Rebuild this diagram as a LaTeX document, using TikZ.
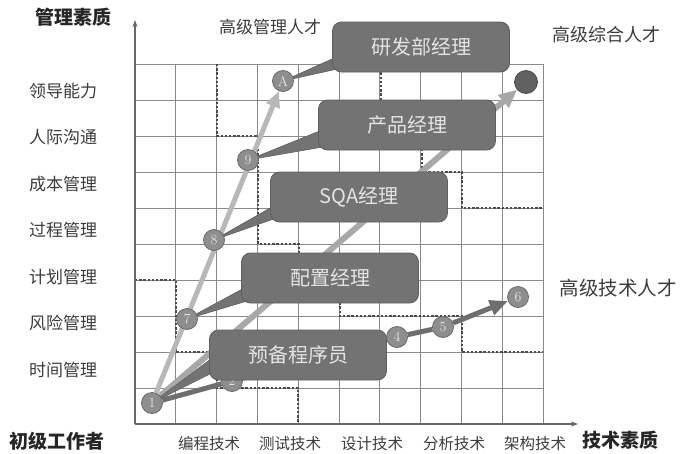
\documentclass[tikz,border=0pt]{standalone}
\usepackage{fontspec}
\newfontfamily\cjk{Noto Sans CJK SC}
\usetikzlibrary{arrows.meta,calc}
\definecolor{gridc}{HTML}{8A8A8A}
\definecolor{axisc}{HTML}{666666}
\definecolor{dotc}{HTML}{4A4A4A}
\definecolor{boxc}{HTML}{737373}
\definecolor{boxd}{HTML}{5E5E5E}
\definecolor{boxt}{HTML}{E4E4E4}
\definecolor{circc}{HTML}{8E8E8E}
\definecolor{circd}{HTML}{6A6A6A}
\definecolor{lgarr}{HTML}{B8B8B8}
\definecolor{mgarr}{HTML}{A8A8A8}
\definecolor{dkarr}{HTML}{6E6E6E}
\definecolor{txtc}{HTML}{3C3C3C}
\pgfdeclarelayer{bg}
\pgfdeclarelayer{mid}
\pgfsetlayers{bg,mid,main}
\tikzset{
  num/.style={circle, fill=circc, draw=circd, line width=0.8pt, minimum size=21pt,
    inner sep=0pt, text=boxt, font=\fontsize{14}{14}\selectfont},
  card/.style={rectangle, rounded corners=9pt, fill=boxc, draw=boxd, line width=0.8pt,
    minimum width=177pt, minimum height=50pt, text=boxt,
    font=\cjk\fontsize{20}{20}\selectfont},
  lab/.style={text=txtc, font=\cjk\fontsize{17}{17}\selectfont, inner sep=0pt},
  blab/.style={text=txtc, font=\cjk\fontsize{15.5}{15.5}\selectfont, inner sep=0pt},
  ttl/.style={text=black!85, font=\cjk\bfseries\fontsize{19}{19}\selectfont, inner sep=0pt},
  wedgec/.style={fill=boxc, draw=boxd, line width=0.6pt, line join=round},
  dotl/.style={dotc, line width=2.4pt, dash pattern=on 2.4pt off 1.8pt},
  gridl/.style={gridc, line width=0.8pt},
  axisl/.style={axisc, line width=1.6pt, -{Stealth[length=7pt,width=5pt]}},
}
\begin{document}
\begin{tikzpicture}[x=1pt,y=-1pt]
\path[use as bounding box] (0,0) rectangle (680,453);

% circles
\node[num] (c1) at (152,403) {1};
\node[num] (c2) at (232,381) {2};
\node[num] (c7) at (187,319) {7};
\node[num] (c8) at (214,240) {8};
\node[num] (c9) at (248,160) {9};
\node[num] (cA) at (283,81) {A};
\node[circle, fill=black!62, draw=black!70, line width=0.8pt, minimum size=23pt, inner sep=0pt] (cD) at (526,82) {};

% boxes
\node[card] (bA) at (421,47) {研发部经理};
\node[card] (b9) at (407,125) {产品经理};
\node[card] (b8) at (359,197) {SQA经理};
\node[card] (b7) at (330,278) {配置经理};
\node[card] (b1) at (298,355) {预备程序员};

\node[num] (c4) at (397,337) {4};
\node[num] (c5) at (443,327) {5};
\node[num] (c6) at (518,297) {6};

% axes
\coordinate (O) at (135,424);
\coordinate (ytop) at (135,20);
\coordinate (xend) at (578,424);

\begin{pgfonlayer}{bg}
  \foreach \i in {1,...,10} {
    \draw[gridl] ({135+40.8*\i},64) -- ({135+40.8*\i},424);
  }
  \foreach \j in {0,...,9} {
    \draw[gridl] (135,{64+36*\j}) -- (543,{64+36*\j});
  }
  \draw[dotl] (135,280) -- (176,280) -- (176,352) -- (217,352) -- (217,388) -- (298,388) -- (298,424);
  \draw[dotl] (217,64) -- (217,136) -- (258,136) -- (258,244) -- (299,244) -- (299,280)
     -- (340,280) -- (340,316) -- (462,316) -- (462,352) -- (543,352);
  \draw[dotl] (381,64) -- (381,136) -- (422,136) -- (422,172) -- (462,172) -- (462,208) -- (543,208);
  \draw[axisl] (O) -- (ytop);
  \draw[axisl] (O) -- (xend);
\end{pgfonlayer}

\begin{pgfonlayer}{mid}
  \draw[mgarr, line width=6pt, -{Triangle[length=18pt,width=16pt]}] (c1) -- (cD);
  \draw[lgarr, line width=5pt, -{Triangle[length=16pt,width=14pt]}] (c1) -- (cA);
  \draw[dkarr, line width=5pt, line join=round, -{Triangle[length=18pt,width=15pt]}] (c1) -- (c2) -- (c4) -- (c5) -- (c6);
  \fill[wedgec] (cA.center) -- ($(bA.south west)+(8,-17)$) -- ($(bA.south west)+(8,-4)$) -- cycle;
  \fill[wedgec] (c9.center) -- ($(b9.south west)+(8,-22)$) -- ($(b9.south west)+(8,-4)$) -- cycle;
  \fill[wedgec] (c8.center) -- ($(b8.south west)+(8,-19)$) -- ($(b8.south west)+(8,-5)$) -- cycle;
  \fill[wedgec] (c7.center) -- ($(b7.south west)+(8,-18)$) -- ($(b7.south west)+(8,-3)$) -- cycle;
  \fill[wedgec] (c1.center) -- ($(b1.south west)+(8,-26)$) -- ($(b1.south west)+(8,-10)$) -- cycle;
\end{pgfonlayer}

% titles and labels
\node[ttl] (tY) at (73,17) {管理素质};
\node[ttl] (tO) at (57,441) {初级工作者};
\node[ttl] (tX) at (620,440) {技术素质};

\node[lab] (m1) at (63,91) {领导能力};
\node[lab] (m2) at (63,137) {人际沟通};
\node[lab] (m3) at (63,184) {成本管理};
\node[lab] (m4) at (63,230) {过程管理};
\node[lab] (m5) at (63,277) {计划管理};
\node[lab] (m6) at (63,323) {风险管理};
\node[lab] (m7) at (63,370) {时间管理};

\node[blab] (k1) at (209,444) {编程技术};
\node[blab] (k2) at (290,444) {测试技术};
\node[blab] (k3) at (372,444) {设计技术};
\node[blab] (k4) at (454,444) {分析技术};
\node[blab] (k5) at (535,444) {架构技术};

\node[lab] (g1) at (270,27) {高级管理人才};
\node[lab, font=\cjk\fontsize{18}{18}\selectfont] (g2) at (606,35) {高级综合人才};
\node[lab, font=\cjk\fontsize{19.5}{19.5}\selectfont] (g3) at (618,288) {高级技术人才};
\end{tikzpicture}
\end{document}
